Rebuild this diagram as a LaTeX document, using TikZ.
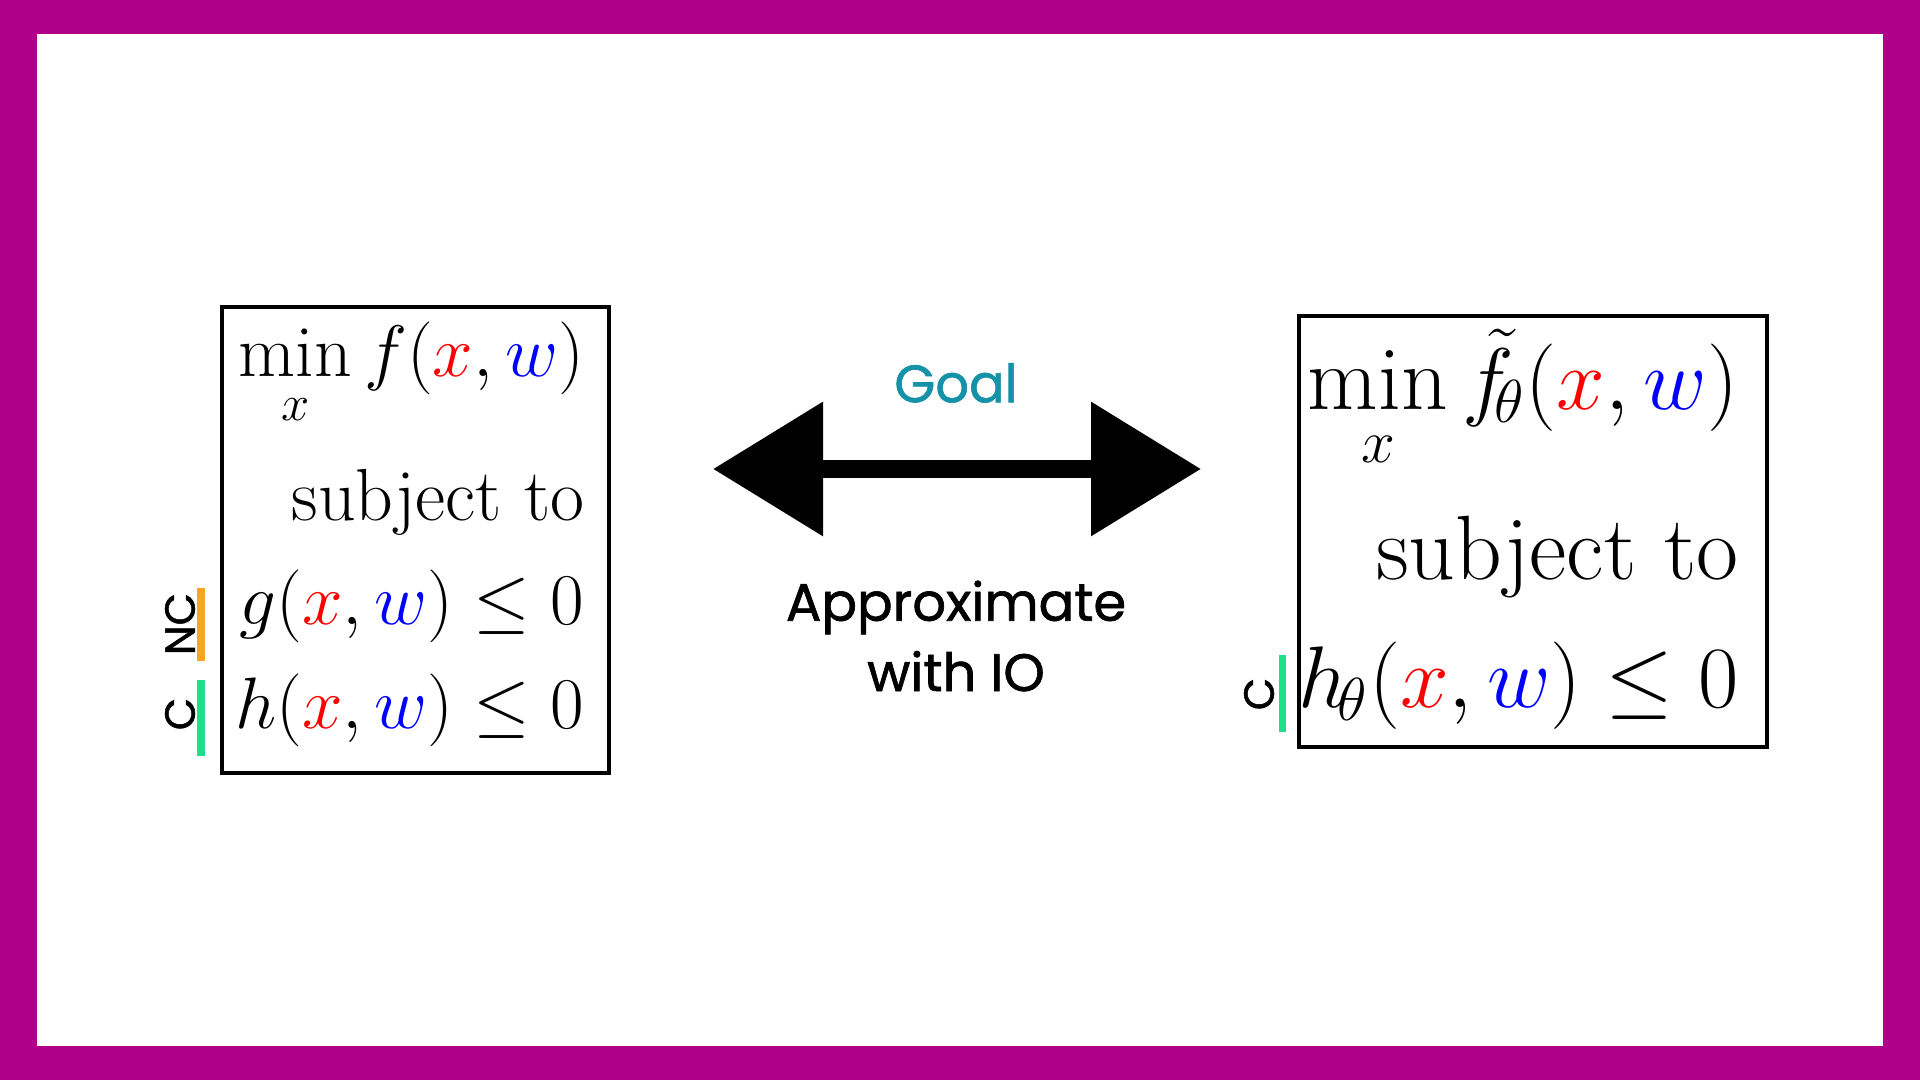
\documentclass[tikz,border=0pt]{standalone}
\usepackage{amsmath}
\usepackage{fontspec}
\newfontfamily\labelfont[FakeBold=1.2]{Poppins}
\definecolor{frame}{HTML}{B0008A}
\definecolor{goal}{HTML}{1591A8}
\definecolor{ncbar}{HTML}{F5A623}
\definecolor{cbar}{HTML}{1EE08A}
\newcommand{\xv}{{\color{red}x}}
\newcommand{\wv}{{\color{blue}w}}
\usetikzlibrary{arrows.meta}

\begin{document}
\begin{tikzpicture}
		\tikzstyle{lhs}=[anchor=east,inner sep=0pt,font=\fontsize{21}{25}\selectfont]
		\tikzstyle{rhs}=[anchor=east,inner sep=0pt,font=\fontsize{26}{30}\selectfont]
		\tikzstyle{tag}=[rotate=90,font=\labelfont\fontsize{12}{14}\selectfont]

		\fill[frame] (0,0) rectangle (19.2,10.8);
		\fill[white] (0.37,0.34) rectangle (18.83,10.46);

		\draw[line width=1.3pt] (2.22,3.07) rectangle (6.09,7.73);
		\draw[line width=1.3pt] (12.99,3.33) rectangle (17.67,7.64);

		\node (lmin) [lhs] at (5.85,7.05) {$\displaystyle\min_x f(\xv,\wv)$};
		\node (lsub) [lhs] at (5.85,5.78) {subject to};
		\node (lg) [lhs] at (5.85,4.74) {$g(\xv,\wv)\le 0$};
		\node (lh) [lhs] at (5.85,3.70) {$h(\xv,\wv)\le 0$};

		\node (rmin) [rhs] at (17.39,6.80) {$\displaystyle\min_x \tilde f_{\!\theta}(\xv,\wv)$};
		\node (rsub) [rhs] at (17.39,5.23) {subject to};
		\node (rh) [rhs] at (17.39,3.94) {$h_{\!\theta}(\xv,\wv)\le 0$};

		\draw[ncbar, line width=2pt] (2.01,4.19) -- (2.01,4.92);
		\draw[cbar, line width=2pt] (2.01,3.24) -- (2.01,4.00);
		\draw[cbar, line width=2pt] (12.82,3.48) -- (12.82,4.25);
		\node (nc) [tag] at (1.80,4.56) {NC};
		\node (c1) [tag] at (1.80,3.66) {C};
		\node (c2) [tag] at (12.59,3.86) {C};

		\coordinate (aleft) at (7.13,6.11);
		\coordinate (aright) at (12.01,6.11);
		\draw[line width=5pt, {Triangle[length=1.1cm,width=1.3cm]}-{Triangle[length=1.1cm,width=1.3cm]}] (aleft) -- (aright);

		\node (goal) at (9.56,6.97) [font=\labelfont\fontsize{15}{18}\selectfont, text=goal] {Goal};
		\node (approx) at (9.56,4.44) [align=center, font=\labelfont\fontsize{15}{20}\selectfont] {Approximate\\with IO};
	\end{tikzpicture}
\end{document}
